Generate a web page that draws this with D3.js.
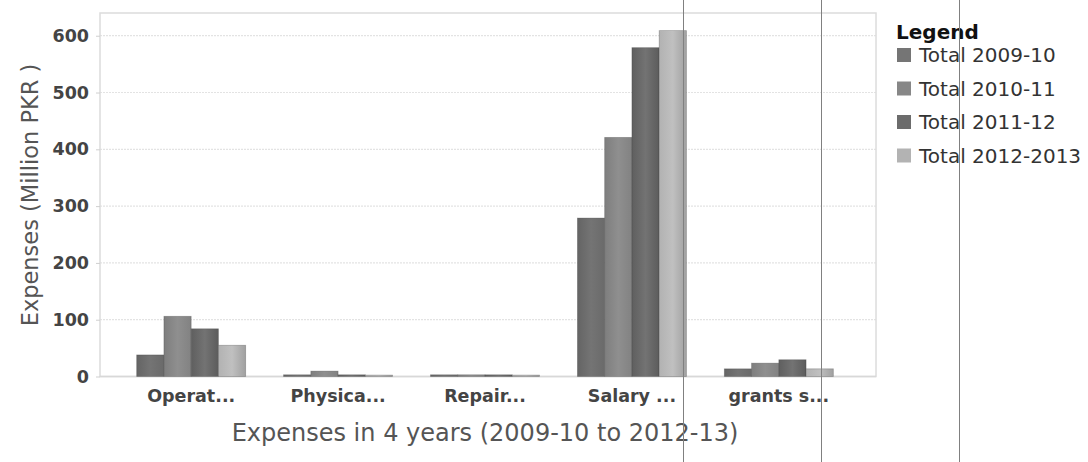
<!DOCTYPE html>
<html><head><meta charset="utf-8">
<script src="https://cdn.jsdelivr.net/npm/d3@7"></script>
<style>
html,body{margin:0;padding:0;background:#fff;}
svg{display:block;}
text{font-family:"DejaVu Sans",Verdana,sans-serif;}
</style></head>
<body>
<svg id="c" width="1088" height="462"></svg>
<script>
const categories = ["Operat...", "Physica...", "Repair...", "Salary ...", "grants s..."];
const seriesNames = ["Total 2009-10", "Total 2010-11", "Total 2011-12", "Total 2012-2013"];
const total2009_10 = [38, 3, 3, 279, 13.5];
const total2010_11 = [106, 9.5, 3, 421, 23.5];
const total2011_12 = [84, 3, 3, 579, 29.5];
const total2012_13 = [55, 2.5, 2.5, 609, 13.5];
const yTicks = [0, 100, 200, 300, 400, 500, 600];
const xTitle = "Expenses in 4 years (2009-10 to 2012-13)";
const yTitle = "Expenses (Million PKR )";
const legendTitle = "Legend";

const seriesValues = [total2009_10, total2010_11, total2011_12, total2012_13];
const seriesColors = [
  ["#646464", "#747474", "#6a6a6a"],
  ["#7e7e7e", "#8f8f8f", "#828282"],
  ["#5f5f5f", "#737373", "#5c5c5c"],
  ["#b2b2b2", "#c0c0c0", "#a0a0a0"]
];
const swatchColors = ["#757575", "#878787", "#6c6c6c", "#b3b3b3"];

const svg = d3.select("#c");
const m = {left: 100, right: 876, top: 13, bottom: 376.5};

const defs = svg.append("defs");
seriesColors.forEach((c, i) => {
  const g = defs.append("linearGradient").attr("id", "g" + i)
    .attr("x1", "0%").attr("x2", "100%").attr("y1", "0%").attr("y2", "0%");
  g.append("stop").attr("offset", "0%").attr("stop-color", c[0]);
  g.append("stop").attr("offset", "50%").attr("stop-color", c[1]);
  g.append("stop").attr("offset", "100%").attr("stop-color", c[2]);
});

const x0 = d3.scaleBand().domain(categories).range([m.left - 3, m.right - 3])
  .paddingInner(0.258).paddingOuter(0.27);
const x1 = d3.scaleBand().domain(seriesNames).range([0, x0.bandwidth()]).padding(0);
const y = d3.scaleLinear().domain([0, 640]).range([m.bottom, m.top]);

// gridlines
svg.append("g").selectAll("line").data(yTicks.filter(d => d > 0)).join("line")
  .attr("x1", m.left).attr("x2", m.right)
  .attr("y1", d => y(d)).attr("y2", d => y(d))
  .attr("stroke", "#e3e3e3").attr("stroke-width", 1.2).attr("stroke-dasharray", "2,1");

// frame
svg.append("rect").attr("x", m.left).attr("y", m.top)
  .attr("width", m.right - m.left).attr("height", m.bottom - m.top)
  .attr("fill", "none").attr("stroke", "#dcdcdc").attr("stroke-width", 1.5);

// y axis
const yAxis = d3.axisLeft(y).tickValues(yTicks).tickSize(4).tickPadding(7);
const yg = svg.append("g").attr("transform", `translate(${m.left},0)`).call(yAxis);
yg.select(".domain").remove();
yg.selectAll(".tick line").attr("stroke", "#cfcfcf");
yg.selectAll(".tick text").attr("font-size", 17.5).attr("font-weight", "bold").attr("fill", "#444")
  .attr("font-family", "DejaVu Sans, sans-serif");

// x axis
const xAxis = d3.axisBottom(x0).tickSize(0).tickPadding(13);
const xg = svg.append("g").attr("transform", `translate(0,${m.bottom})`).call(xAxis);
xg.select(".domain").attr("stroke", "#d8d8d8").attr("stroke-width", 1.5)
  .attr("d", `M${m.left},0H${m.right}`);
xg.selectAll(".tick text").attr("font-size", 17.5).attr("font-weight", "bold").attr("fill", "#444")
  .attr("font-family", "DejaVu Sans, sans-serif");

// bars
const groups = svg.append("g").selectAll("g").data(categories).join("g")
  .attr("transform", d => `translate(${x0(d)},0)`);
groups.selectAll("rect").data((d, ci) => seriesNames.map((s, si) => ({s, si, v: seriesValues[si][ci]})))
  .join("rect")
  .attr("x", d => x1(d.s)).attr("width", x1.bandwidth())
  .attr("y", d => y(d.v)).attr("height", d => y(0) - y(d.v))
  .attr("fill", d => `url(#g${d.si})`)
  .attr("stroke", "rgba(60,60,60,0.35)").attr("stroke-width", 0.8);

// axis titles
svg.append("text").attr("x", 485).attr("y", 441).attr("text-anchor", "middle")
  .attr("font-size", 24).attr("fill", "#555").text(xTitle);
svg.append("text").attr("transform", "translate(38,195) rotate(-90)").attr("text-anchor", "middle")
  .attr("font-size", 22.5).attr("fill", "#555").text(yTitle);

// legend
svg.append("text").attr("x", 896).attr("y", 39).attr("font-size", 20).attr("font-weight", "bold")
  .attr("fill", "#111").text(legendTitle);
const leg = d3.scaleBand().domain(seriesNames).range([48, 182]);
const li = svg.append("g").selectAll("g").data(seriesNames).join("g")
  .attr("transform", d => `translate(897,${leg(d)})`);
li.append("rect").attr("x", 0).attr("y", 0).attr("width", 14).attr("height", 14)
  .attr("fill", (d, i) => swatchColors[i]);
li.append("text").attr("x", 22).attr("y", 7).attr("dy", "0.36em").attr("font-size", 20)
  .attr("fill", "#333").text(d => d);

// vertical scan lines
const scanLines = [683, 821, 959];
svg.append("g").selectAll("line").data(scanLines).join("line")
  .attr("x1", d => d + 0.5).attr("x2", d => d + 0.5).attr("y1", 0).attr("y2", 462)
  .attr("stroke", "#808080").attr("stroke-width", 1);
</script>
</body></html>
